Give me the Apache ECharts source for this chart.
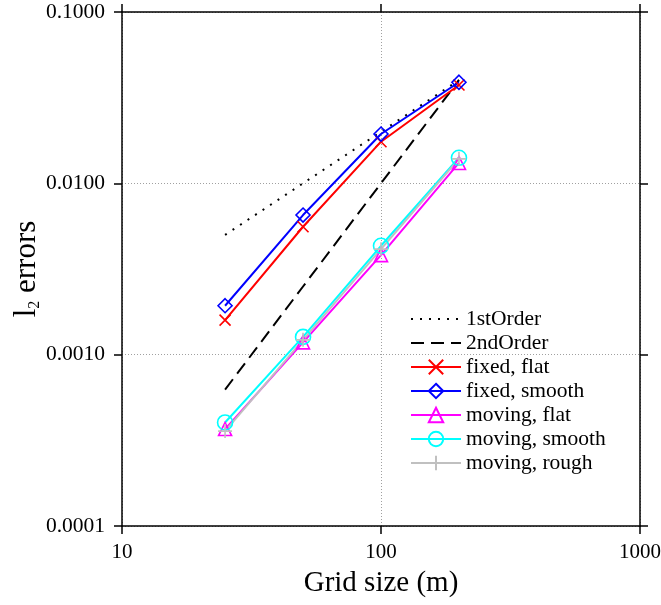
<!DOCTYPE html>
<html>
<head>
<meta charset="utf-8">
<script src="https://cdn.jsdelivr.net/npm/echarts@6/dist/echarts.min.js"></script>
<style>html,body{margin:0;padding:0;background:#fff}#c{width:661px;height:605px}</style>
</head>
<body>
<div id="c"></div>
<script>
var gridSizes = [25, 50, 100, 200];
var firstOrder = [0.005, 0.01, 0.02, 0.04];
var secondOrder = [0.000625, 0.0025, 0.01, 0.04];
var fixedFlat = [0.00159, 0.00558, 0.0175, 0.0375];
var fixedSmooth = [0.00193, 0.00653, 0.0194, 0.0389];
var movingFlat = [0.000368, 0.00118, 0.00381, 0.01315];
var movingSmooth = [0.000402, 0.00127, 0.00432, 0.0141];
var movingRough = [0.000358, 0.00122, 0.00413, 0.0139];
var seriesNames = ['1stOrder', '2ndOrder', 'fixed, flat', 'fixed, smooth', 'moving, flat', 'moving, smooth', 'moving, rough'];
var xTicks = [10, 100, 1000];
var yTicks = [0.0001, 0.001, 0.01, 0.1];

var FONT = '"Liberation Serif", "Times New Roman", serif';
function pairs(vals) { return gridSizes.map(function (x, i) { return [x, vals[i]]; }); }

var SYM = {
  cross: 'path://M0,0L10,10M0,10L10,0',
  diamond: 'path://M5,0L10,5L5,10L0,5Z',
  triangle: 'path://M5,0L10,9L0,9Z',
  circle: 'circle',
  plus: 'path://M5,0L5,10M0,5L10,5'
};

function markSeries(name, vals, color, sym, size) {
  return {
    name: name, type: 'line', xAxisIndex: 0, yAxisIndex: 0,
    data: pairs(vals),
    symbol: sym, symbolSize: size, showSymbol: true,
    lineStyle: { color: color, width: 2 },
    itemStyle: { color: 'rgba(0,0,0,0)', borderColor: color, borderWidth: 1.6 },
    emphasis: { disabled: true }, silent: true
  };
}
function refSeries(name, vals, dash) {
  return {
    name: name, type: 'line', xAxisIndex: 0, yAxisIndex: 0,
    data: pairs(vals), symbol: 'circle', symbolSize: 0, showSymbol: false,
    lineStyle: { color: '#000', width: 2, type: dash },
    itemStyle: { color: 'rgba(0,0,0,0)', borderColor: 'rgba(0,0,0,0)', borderWidth: 0 },
    emphasis: { disabled: true }, silent: true
  };
}

var axisLineStyle = { lineStyle: { color: '#000', width: 1.5 } };
var tickStyle = { show: true, length: 8, lineStyle: { color: '#000', width: 1.5 } };
var splitStyle = { show: true, lineStyle: { color: '#a0a0a0', width: 1, type: [1, 2] } };

var option = {
  animation: false,
  backgroundColor: '#fff',
  grid: { left: 122, right: 21, top: 12, bottom: 79, containLabel: false, outerBoundsMode: 'none' },
  legend: {
    orient: 'vertical', left: 405, top: 302,
    itemWidth: 50, itemHeight: 18, itemGap: 0,
    textStyle: { fontFamily: FONT, fontSize: 21.5, lineHeight: 24, color: '#000' },
    data: seriesNames,
    selectedMode: false
  },
  xAxis: [
    {
      type: 'log', logBase: 10, min: xTicks[0], max: xTicks[xTicks.length - 1], position: 'bottom',
      axisLine: axisLineStyle, axisTick: tickStyle, splitLine: splitStyle, minorTick: { show: false },
      axisLabel: { fontFamily: FONT, fontSize: 21, color: '#000', margin: 16, formatter: function (v) { return String(Math.round(v)); } },
      name: 'Grid size (m)', nameLocation: 'middle', nameGap: 43, nameMoveOverlap: false,
      nameTextStyle: { fontFamily: FONT, fontSize: 29, color: '#000' }
    },
    {
      type: 'log', logBase: 10, min: xTicks[0], max: xTicks[xTicks.length - 1], position: 'top',
      axisLine: axisLineStyle, axisTick: tickStyle, splitLine: { show: false }, axisLabel: { show: false }
    }
  ],
  yAxis: [
    {
      type: 'log', logBase: 10, min: yTicks[0], max: yTicks[yTicks.length - 1], position: 'left',
      axisLine: axisLineStyle, axisTick: tickStyle, splitLine: splitStyle, minorTick: { show: false },
      axisLabel: { fontFamily: FONT, fontSize: 21.5, color: '#000', margin: 17, formatter: function (v) { return v.toFixed(4); } },
      name: '{a|l}{b|2}{a| errors}', nameLocation: 'middle', nameGap: 80, nameRotate: 90, nameMoveOverlap: false,
      nameTextStyle: {
        fontFamily: FONT, fontSize: 31, color: '#000',
        rich: {
          a: { fontFamily: FONT, fontSize: 31, lineHeight: 31, color: '#000', verticalAlign: 'top' },
          b: { fontFamily: FONT, fontSize: 16, lineHeight: 16, color: '#000', verticalAlign: 'top', padding: [16, 0, 0, 0] }
        }
      }
    },
    {
      type: 'log', logBase: 10, min: yTicks[0], max: yTicks[yTicks.length - 1], position: 'right',
      axisLine: axisLineStyle, axisTick: tickStyle, splitLine: { show: false }, axisLabel: { show: false }
    }
  ],
  series: [
    refSeries(seriesNames[0], firstOrder, [2, 7]),
    refSeries(seriesNames[1], secondOrder, [13, 7]),
    markSeries(seriesNames[2], fixedFlat, '#ff0000', SYM.cross, 11),
    markSeries(seriesNames[3], fixedSmooth, '#0000ff', SYM.diamond, 14),
    markSeries(seriesNames[4], movingFlat, '#ff00ff', SYM.triangle, 13),
    markSeries(seriesNames[5], movingSmooth, '#00ffff', SYM.circle, 15),
    markSeries(seriesNames[6], movingRough, '#c0c0c0', SYM.plus, 14)
  ]
};
var chart = echarts.init(document.getElementById('c'), null, { renderer: 'canvas' });
chart.setOption(option);
</script>
</body>
</html>
